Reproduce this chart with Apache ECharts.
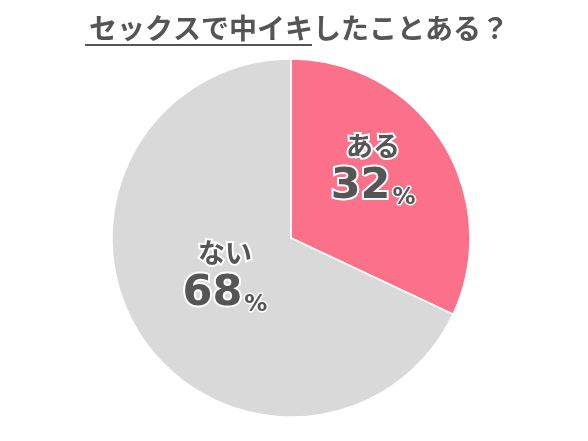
<!DOCTYPE html>
<html><head><meta charset="utf-8">
<script src="https://cdn.jsdelivr.net/npm/echarts@6/dist/echarts.min.js"></script>
<style>html,body{margin:0;padding:0;background:#fff}#c{width:588px;height:441px}</style>
</head><body><div id="c"></div>
<script>
const titleUnderlined = 'セックスで中イキ';
const titleRest = 'したことある？';
const categories = ['ある', 'ない'];
const values = [32, 68];
const colors = ['#FA7189', '#D9D9D9'];
const labelShift = [[4, -20], [12, -12]];

const chart = echarts.init(document.getElementById('c'));
const font = '"Noto Sans CJK JP", "Noto Sans", sans-serif';
const numFont = '"DejaVu Sans", sans-serif';
chart.setOption({
  animation: false,
  title: {
    text: titleUnderlined + titleRest,
    left: 84, top: 9,
    textStyle: { fontFamily: font, fontSize: 28, fontWeight: 'bold', color: '#555555' }
  },
  graphic: [{
    type: 'line', shape: { x1: 85, y1: 45, x2: 312, y2: 45 },
    style: { stroke: '#555555', lineWidth: 2 }
  }],
  series: [{
    type: 'pie',
    center: [291, 238],
    radius: [0, 179],
    startAngle: 90,
    clockwise: true,
    itemStyle: { borderColor: '#ffffff', borderWidth: 1.5 },
    label: {
      show: true, position: 'inside',
      formatter: p => '{n|' + p.name + '}\n{v|' + p.value + '}{p|%}',
      rich: {
        n: { fontFamily: font, fontSize: 27, fontWeight: 'bold', color: '#555555', textBorderColor: '#fff', textBorderWidth: 4, lineHeight: 36 },
        v: { fontFamily: numFont, fontSize: 43, fontWeight: 'bold', color: '#555555', textBorderColor: '#fff', textBorderWidth: 4, lineHeight: 46 },
        p: { fontFamily: numFont, fontSize: 23, fontWeight: 'bold', color: '#555555', textBorderColor: '#fff', textBorderWidth: 3, lineHeight: 40, verticalAlign: 'bottom', padding: [0, 0, 0, 2] }
      }
    },
    labelLayout: p => ({ dx: labelShift[p.dataIndex][0], dy: labelShift[p.dataIndex][1] }),
    data: categories.map((c, i) => ({ name: c, value: values[i], itemStyle: { color: colors[i] } }))
  }]
});
</script></body></html>
